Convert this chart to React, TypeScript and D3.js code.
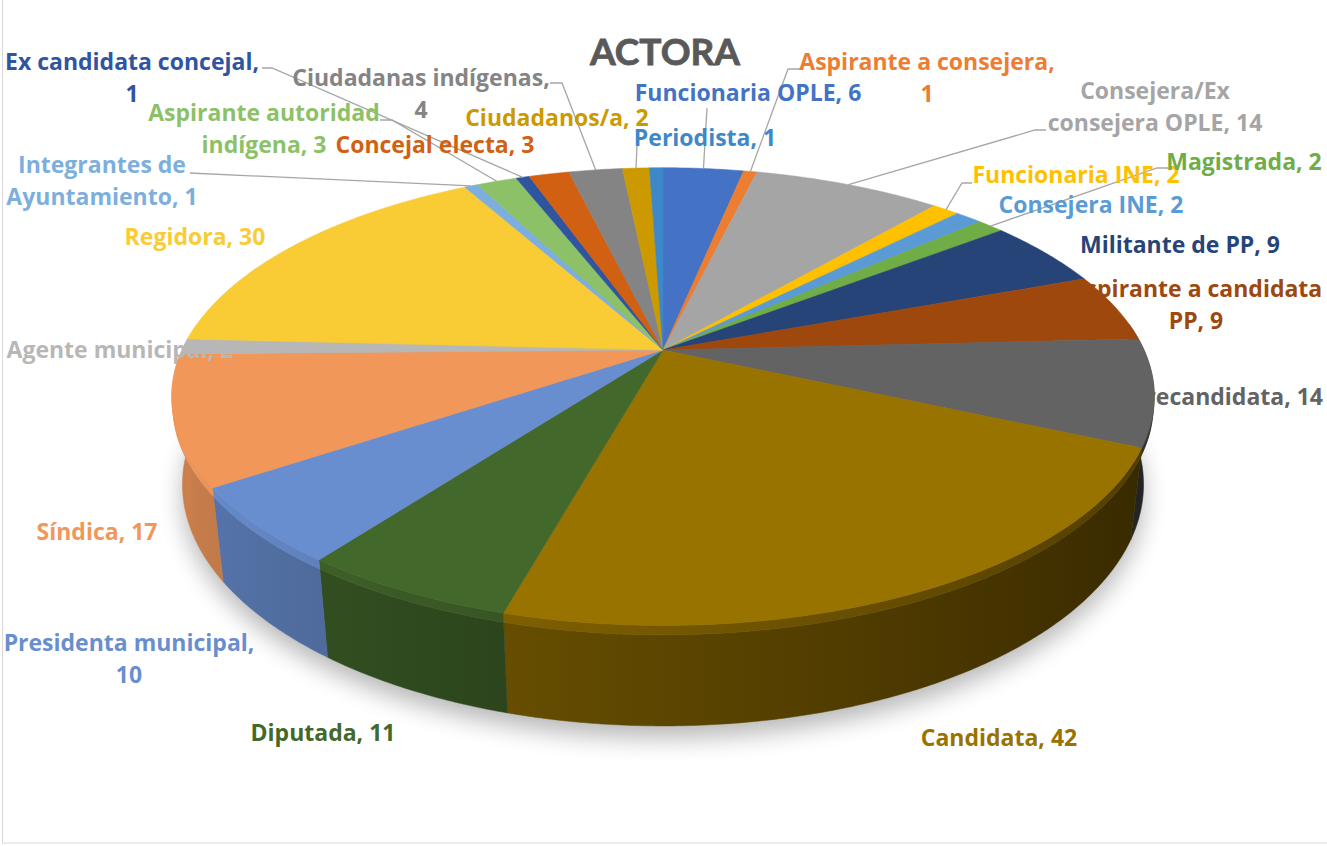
import React, { useRef, useEffect } from 'react';
import * as d3 from 'd3';

// ACTORA - 3D pie, Excel look
const title = "ACTORA";
const categories = [
  "Funcionaria OPLE", "Aspirante a consejera", "Consejera/Ex consejera OPLE", "Funcionaria INE",
  "Consejera INE", "Magistrada", "Militante de PP", "Aspirante a candidata PP", "Precandidata",
  "Candidata", "Diputada", "Presidenta municipal", "Síndica", "Agente municipal", "Regidora",
  "Integrantes de Ayuntamiento", "Aspirante autoridad indígena", "Ex candidata concejal",
  "Concejal electa", "Ciudadanas indígenas", "Ciudadanos/a", "Periodista",
];
const values = [6, 1, 14, 2, 2, 2, 9, 9, 14, 42, 11, 10, 17, 2, 30, 1, 3, 1, 3, 4, 2, 1];
const colors = [
  "#4472C4", "#ED7D31", "#A5A5A5", "#FFC000", "#5B9BD5", "#70AD47", "#264478", "#9E480E", "#636363",
  "#997300", "#43682B", "#698ED0", "#F1975A", "#B7B7B7", "#F9CB35", "#7CAFDD", "#8CC168", "#2F55A0",
  "#D26012", "#848484", "#CC9A00", "#3D88C9",
];

// data label placement: center x, center y of first line, words on first line
const labelLayout = [
  { x: 748, y: 93 },
  { x: 927, y: 62, br: 3 },
  { x: 1155, y: 91, br: 1 },
  { x: 1076, y: 175 },
  { x: 1091, y: 205 },
  { x: 1244, y: 162 },
  { x: 1180, y: 245 },
  { x: 1196, y: 289, br: 3 },
  { x: 1227, y: 397 },
  { x: 999, y: 738 },
  { x: 323, y: 733 },
  { x: 129, y: 643, br: 2 },
  { x: 97, y: 532 },
  { x: 120, y: 350 },
  { x: 195, y: 237 },
  { x: 102, y: 165, br: 2 },
  { x: 264, y: 113, br: 2 },
  { x: 132, y: 62, br: 3 },
  { x: 435, y: 145 },
  { x: 421, y: 78, br: 2 },
  { x: 557, y: 118 },
  { x: 705, y: 138 },
];

// leader lines: start point and horizontal stub, they end on the slice rim
const leaders: { [k: number]: { x: number; y: number; stub: number } } = {
  0: { x: 707, y: 108, stub: 0 },
  1: { x: 800, y: 69, stub: -12 },
  2: { x: 1046, y: 130, stub: -11 },
  3: { x: 972, y: 183, stub: -10 },
  5: { x: 1168, y: 168, stub: -11 },
  15: { x: 190, y: 173, stub: 0 },
  16: { x: 380, y: 120, stub: 12 },
  17: { x: 262, y: 68, stub: 10 },
  19: { x: 550, y: 83, stub: 12 },
  20: { x: 637, y: 145, stub: 0 },
};

const labelFont = "'Open Sans', sans-serif";

const App = () => {
  const ref = useRef<SVGSVGElement>(null);

  useEffect(() => {
    const svg = d3.select(ref.current);
    svg.selectAll("*").remove();

    const cx = 663, cy = 350, R = 481;
    const sinP = 0.456, cosP = Math.sqrt(1 - sinP * sinP);
    const D = 2102, T = 99, BEV = 9;

    // perspective projection of a point on the rim (angle a, height h)
    const proj = (a: number, h: number): [number, number, number] => {
      const X = R * Math.sin(a), Z = -R * Math.cos(a);
      const depth = Z * cosP + h * sinP;
      const s = D / (D - depth);
      return [cx + X * s, cy + (Z * sinP - h * cosP) * s, depth];
    };
    const rim = (h: number, a0: number, a1: number, n: number) =>
      d3.range(n + 1).map(i => proj(a0 + (a1 - a0) * i / n, h)).map(p => [p[0], p[1]] as [number, number]);
    const line = d3.line();
    const shade = (c: string, b: number) => {
      const r = d3.rgb(c);
      return d3.rgb(r.r * b, r.g * b, r.b * b).formatHex();
    };
    const light = (a: number) => 0.35 + 0.5 * (1 - Math.sin(a)) / 2;

    const arcs = d3.pie<number>().sort(null).value(d => d)(values);
    const step = Math.PI / 360;

    const defs = svg.append("defs");
    defs.append("filter").attr("id", "pieShadow")
      .attr("x", "-20%").attr("y", "-30%").attr("width", "140%").attr("height", "160%")
      .append("feGaussianBlur").attr("stdDeviation", 12);

    // chart area border
    svg.append("rect")
      .attr("x", 2.5).attr("y", -5).attr("width", 1340).attr("height", 848)
      .attr("fill", "#fff").attr("stroke", "#D9D9D9").attr("stroke-width", 1);

    // soft shadow under the pie
    svg.append("path")
      .attr("d", line(rim(-T, 0, 2 * Math.PI, 180)) + "Z")
      .attr("fill", "#000").attr("opacity", 0.28)
      .attr("transform", "translate(0,12)")
      .attr("filter", "url(#pieShadow)");

    // outer walls (front half only), shaded with a horizontal gradient
    const vis0 = Math.PI / 2 - 0.12, vis1 = 1.5 * Math.PI + 0.12;
    const walls = svg.append("g");
    arcs.forEach((a, i) => {
      const a0 = Math.max(a.startAngle, vis0), a1 = Math.min(a.endAngle, vis1);
      if (a1 <= a0) return;
      const n = Math.max(2, Math.ceil((a1 - a0) / step));
      const bands: [number, number, number, string][] = [
        [-BEV, -T, 0, "w"], [0, -BEV, 0.16, "b"],
      ];
      bands.forEach(([h0, h1, boost, tag]) => {
        const id = `wall-${tag}-${i}`;
        const samples = d3.range(9).map(k => {
          const t = a0 + (a1 - a0) * k / 8;
          return { x: proj(t, (h0 + h1) / 2)[0], b: Math.min(1, light(t) + boost) };
        });
        const xs = samples.map(s => s.x);
        const xmin = d3.min(xs)!, xmax = d3.max(xs)!;
        const g = defs.append("linearGradient").attr("id", id)
          .attr("gradientUnits", "userSpaceOnUse")
          .attr("x1", xmin).attr("x2", Math.max(xmax, xmin + 0.5)).attr("y1", 0).attr("y2", 0);
        samples.sort((p, q) => p.x - q.x).forEach(s => {
          g.append("stop")
            .attr("offset", xmax > xmin ? (s.x - xmin) / (xmax - xmin) : 0)
            .attr("stop-color", shade(colors[i], s.b));
        });
        const pts = [...rim(h0, a0, a1, n), ...rim(h1, a0, a1, n).reverse()];
        walls.append("path")
          .attr("d", line(pts) + "Z")
          .attr("fill", `url(#${id})`)
          .attr("stroke", `url(#${id})`)
          .attr("stroke-width", 0.5);
      });
    });

    // top faces
    svg.append("g").selectAll("path").data(arcs).enter().append("path")
      .attr("d", a => {
        const n = Math.max(2, Math.ceil((a.endAngle - a.startAngle) / step));
        return line([[cx, cy], ...rim(0, a.startAngle, a.endAngle, n)]) + "Z";
      })
      .attr("fill", (a, i) => colors[i])
      .attr("stroke", (a, i) => colors[i])
      .attr("stroke-width", 0.6)
      .attr("stroke-linejoin", "round");

    // leader lines
    Object.keys(leaders).forEach(k => {
      const i = +k, l = leaders[i];
      const mid = (arcs[i].startAngle + arcs[i].endAngle) / 2;
      const e = proj(mid, 0);
      const pts: [number, number][] = l.stub
        ? [[l.x, l.y], [l.x + l.stub, l.y], [e[0], e[1]]]
        : [[l.x, l.y], [e[0], e[1]]];
      svg.append("path").attr("d", line(pts))
        .attr("fill", "none").attr("stroke", "#A6A6A6").attr("stroke-width", 1.3);
    });

    // data labels
    const lineH = 32;
    categories.forEach((c, i) => {
      const lay = labelLayout[i];
      const words = `${c}, ${values[i]}`.split(" ");
      const lines = lay.br ? [words.slice(0, lay.br).join(" "), words.slice(lay.br).join(" ")] : [words.join(" ")];
      const t = svg.append("text")
        .attr("text-anchor", "middle")
        .style("font-family", labelFont)
        .style("font-weight", 700)
        .style("font-size", "23px")
        .attr("fill", colors[i]);
      lines.forEach((s, j) => {
        t.append("tspan").attr("x", lay.x).attr("y", lay.y + 8 + j * lineH).text(s);
      });
    });

    svg.append("text")
      .attr("x", 665).attr("y", 65)
      .attr("text-anchor", "middle")
      .style("font-family", "Lato, sans-serif")
      .style("font-weight", 700)
      .style("font-size", "37px")
      .attr("fill", "#595959")
      .attr("stroke", "#595959")
      .attr("stroke-width", 0.8)
      .text(title);
  }, []);

  return (
    <svg ref={ref} width={1327} height={846}
      style={{ position: "absolute", left: 0, top: 0, display: "block" }} />
  );
};

export default App;
